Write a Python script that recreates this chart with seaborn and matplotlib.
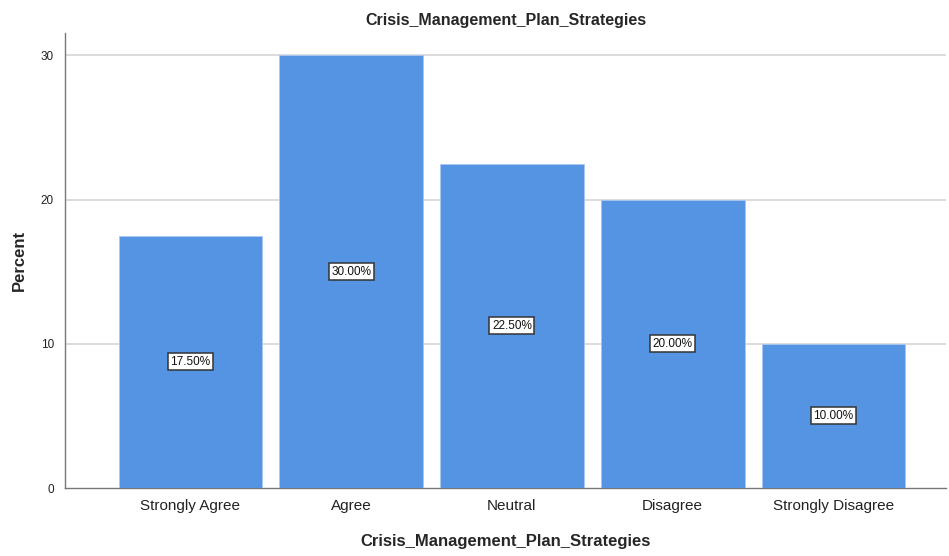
import pandas as pd
import matplotlib
matplotlib.use("Agg")
import matplotlib.pyplot as plt
import seaborn as sns

# data
categories = ["Strongly Agree", "Agree", "Neutral", "Disagree", "Strongly Disagree"]
percents = [17.5, 30.0, 22.5, 20.0, 10.0]
y_ticks = [0, 10, 20, 30]

def main():
    sns.set_style("white")
    plt.rcParams["font.family"] = ["Arial", "Liberation Sans", "DejaVu Sans"]

    df = pd.DataFrame({"Category": categories, "Percent": percents})

    fig = plt.figure(figsize=(9.49, 5.56), dpi=100)
    ax = fig.add_axes([0.0685, 0.1223, 0.9283, 0.8183])

    sns.barplot(data=df, x="Category", y="Percent", color="#5494e3",
                width=0.894, edgecolor="#a9c8f0", linewidth=0.6,
                saturation=1, ax=ax, zorder=3)

    # percent labels at the middle of each bar
    for i, v in enumerate(percents):
        ax.text(i, v / 2, f"{v:.2f}%", ha="center", va="center", fontsize=8.5,
                color="#111111", zorder=5,
                bbox=dict(boxstyle="square,pad=0.22", facecolor="white",
                          edgecolor="#333333", linewidth=1.1))

    ax.set_ylim(0, 31.55)
    ax.set_xlim(-0.78, 4.70)
    ax.set_yticks(y_ticks)
    ax.set_yticklabels([str(t) for t in y_ticks], fontsize=8.5)
    ax.tick_params(axis="x", labelsize=11, length=0, pad=8, colors="#222222")
    ax.tick_params(axis="y", length=0, pad=8, colors="#222222")

    for t in y_ticks[1:]:
        ax.axhline(t, color="#d9d9d9", linewidth=1.3, zorder=1)

    for side in ["top", "right"]:
        ax.spines[side].set_visible(False)
    for side in ["left", "bottom"]:
        ax.spines[side].set_color("#777777")
        ax.spines[side].set_linewidth(1)

    ax.set_title("Crisis_Management_Plan_Strategies", fontsize=11.5,
                 fontweight="bold", pad=6)
    ax.set_xlabel("Crisis_Management_Plan_Strategies", fontsize=12,
                  fontweight="bold", labelpad=15)
    ax.set_ylabel("Percent", fontsize=12, fontweight="bold", labelpad=10)

    fig.savefig("out.png", dpi=100)

if __name__ == "__main__":
    main()
